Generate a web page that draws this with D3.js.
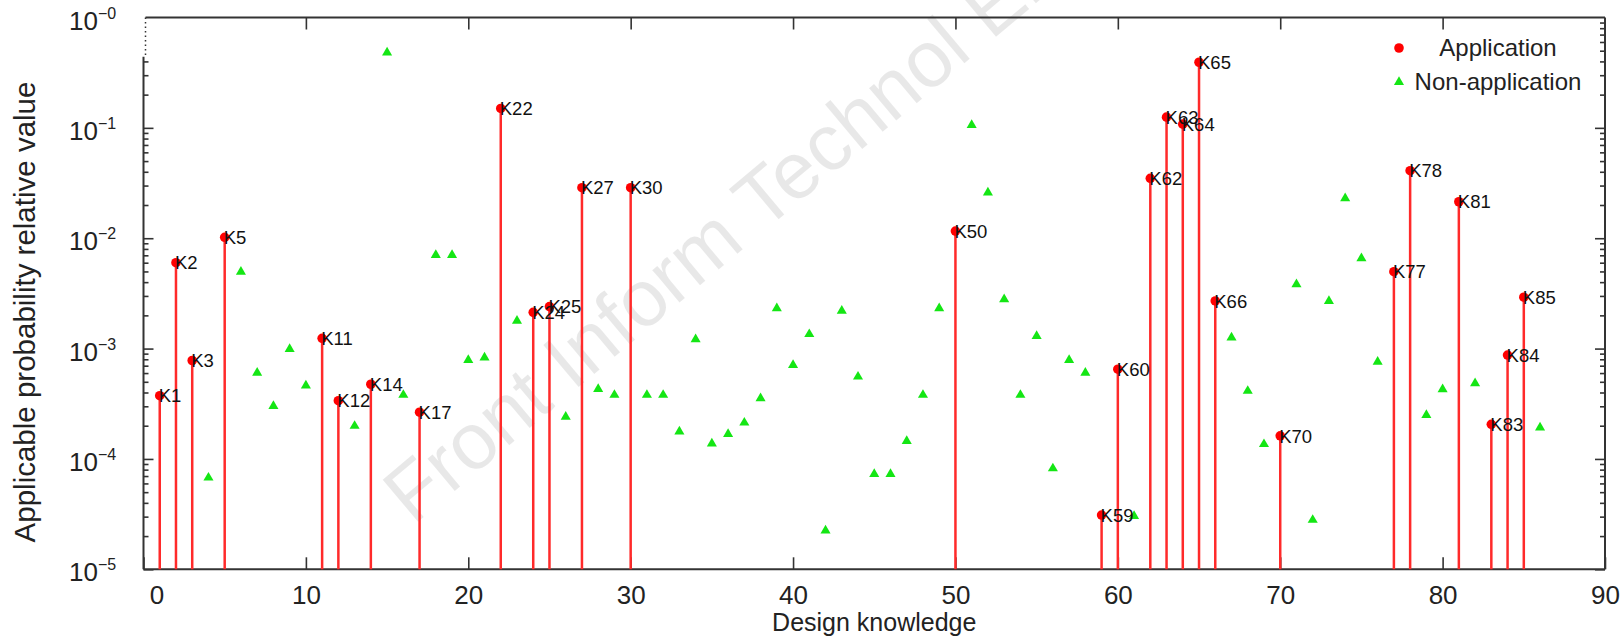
<!DOCTYPE html>
<html>
<head>
<meta charset="utf-8">
<script src="https://cdn.jsdelivr.net/npm/d3@7"></script>
<style>
  body { margin: 0; background: #fff; }
  svg { display: block; }
  text { font-family: "Liberation Sans", Arial, sans-serif; }
</style>
</head>
<body>
<script>
// knowledge items that were applied (red stems) and their relative values
var appIds = [1, 2, 3, 5, 11, 12, 14, 17, 22, 24, 25, 27, 30, 50, 59, 60, 62, 63, 64, 65, 66, 70, 77, 78, 81, 83, 84, 85];
var appValues = [3.74e-4, 6.0e-3, 7.8e-4, 1.02e-2, 1.24e-3, 3.37e-4, 4.75e-4, 2.65e-4, 0.150, 2.13e-3, 2.4e-3, 2.87e-2, 2.87e-2, 1.16e-2,
                 3.1e-5, 6.5e-4, 3.49e-2, 0.125, 0.108, 0.393, 2.7e-3, 1.62e-4, 4.97e-3, 4.09e-2, 2.14e-2, 2.06e-4, 8.74e-4, 2.92e-3];
var appLabels = ["K1", "K2", "K3", "K5", "K11", "K12", "K14", "K17", "K22", "K24", "K25", "K27", "K30", "K50",
                 "K59", "K60", "K62", "K63", "K64", "K65", "K66", "K70", "K77", "K78", "K81", "K83", "K84", "K85"];

// knowledge items not applied (green triangles)
var nonIds = [4, 6, 7, 8, 9, 10, 13, 15, 16, 18, 19, 20, 21, 23, 26, 28, 29, 31, 32, 33, 34, 35, 36, 37, 38, 39, 40, 41, 42,
              43, 44, 45, 46, 47, 48, 49, 51, 52, 53, 54, 55, 56, 57, 58, 61, 67, 68, 69, 71, 72, 73, 74, 75, 76, 79, 80, 82, 86];
var nonValues = [6.76e-5, 4.97e-3, 6.04e-4, 3.02e-4, 9.9e-4, 4.61e-4, 1.99e-4, 0.48, 3.8e-4, 7.05e-3, 7.05e-3, 7.88e-4, 8.27e-4, 1.78e-3,
                 2.41e-4, 4.3e-4, 3.8e-4, 3.8e-4, 3.8e-4, 1.77e-4, 1.21e-3, 1.38e-4, 1.68e-4, 2.13e-4, 3.54e-4, 2.32e-3, 7.1e-4, 1.35e-3, 2.24e-5,
                 2.2e-3, 5.56e-4, 7.3e-5, 7.3e-5, 1.45e-4, 3.8e-4, 2.32e-3, 0.106, 2.59e-2, 2.79e-3, 3.8e-4, 1.3e-3, 8.2e-5, 7.88e-4, 6.04e-4,
                 3.04e-5, 1.26e-3, 4.13e-4, 1.36e-4, 3.82e-3, 2.8e-5, 2.7e-3, 2.3e-2, 6.58e-3, 7.6e-4, 2.5e-4, 4.28e-4, 4.84e-4, 1.92e-4];

var xTicks = [0, 10, 20, 30, 40, 50, 60, 70, 80, 90];
var yDecades = [0, -1, -2, -3, -4, -5];
var legendNames = ["Application", "Non-application"];

var width = 1620, height = 639;
var margin = {top: 17.5, right: 15, bottom: 69.7, left: 143.5};
var axisColor = "#333";

var svg = d3.select("body").append("svg")
    .attr("width", width)
    .attr("height", height);

var x = d3.scaleLinear().domain([0, 90]).range([margin.left, width - margin.right]);
var y = d3.scaleLog().domain([1e-5, 1]).range([height - margin.bottom, margin.top]);

// watermark
svg.append("text")
    .attr("transform", "translate(413,526) rotate(-40)")
    .attr("font-size", 80)
    .attr("fill", "#000")
    .attr("fill-opacity", 0.09)
    .text("Front Inform Technol Electron Eng");

var minorVals = [];
yDecades.slice(1).forEach(function(e) {
    for (var m = 2; m <= 9; m++) minorVals.push(m * Math.pow(10, e));
});
var leftMinor = minorVals.filter(function(v) { return v <= 0.4; });

function styleAxis(g) {
    g.select(".domain").remove();
    g.selectAll(".tick line").attr("stroke", axisColor).attr("stroke-width", 1.6);
}

// bottom axis with labels
var xAxisG = svg.append("g")
    .attr("transform", "translate(0," + y(1e-5) + ")")
    .call(d3.axisBottom(x).tickValues(xTicks).tickSize(-12).tickPadding(16).tickFormat(d3.format("d")))
    .call(styleAxis);
xAxisG.selectAll(".tick text")
    .attr("font-size", 26)
    .attr("fill", "#222")
    .attr("dx", function(d) { return d === 0 ? 13 : 0; });

// top axis, ticks only
svg.append("g")
    .attr("transform", "translate(0," + y(1) + ")")
    .call(d3.axisTop(x).tickValues(xTicks.slice(1, -1)).tickSize(-12).tickFormat(""))
    .call(styleAxis);

// left minor + major ticks
svg.append("g")
    .attr("transform", "translate(" + x(0) + ",0)")
    .call(d3.axisLeft(y).tickValues(leftMinor).tickSize(-5).tickFormat(""))
    .call(styleAxis);
svg.append("g")
    .attr("transform", "translate(" + x(0) + ",0)")
    .call(d3.axisLeft(y).tickValues(yDecades.slice(1).map(function(e) { return Math.pow(10, e); })).tickSize(-10).tickFormat(""))
    .call(styleAxis);

// right minor + major ticks
svg.append("g")
    .attr("transform", "translate(" + x(90) + ",0)")
    .call(d3.axisRight(y).tickValues(minorVals).tickSize(-5).tickFormat(""))
    .call(styleAxis);
svg.append("g")
    .attr("transform", "translate(" + x(90) + ",0)")
    .call(d3.axisRight(y).tickValues(yDecades.slice(1).map(function(e) { return Math.pow(10, e); })).tickSize(-10).tickFormat(""))
    .call(styleAxis);

// frame
var frame = svg.append("g").attr("stroke", axisColor).attr("stroke-width", 2).attr("fill", "none");
frame.append("line").attr("x1", x(0)).attr("x2", x(90)).attr("y1", y(1e-5)).attr("y2", y(1e-5));
frame.append("line").attr("x1", x(0) + 2).attr("x2", x(90)).attr("y1", y(1)).attr("y2", y(1));
frame.append("line").attr("x1", x(90)).attr("x2", x(90)).attr("y1", y(1)).attr("y2", y(1e-5));
frame.append("line").attr("x1", x(0)).attr("x2", x(0)).attr("y1", y(0.44)).attr("y2", y(1e-5));
frame.append("line").attr("x1", x(0) + 2).attr("x2", x(0) + 2).attr("y1", y(1)).attr("y2", y(0.44))
    .attr("stroke-dasharray", "1.5,3").attr("stroke-width", 1.5);

// y tick labels 10^-n
var yLab = svg.append("g").attr("fill", "#222");
yDecades.forEach(function(e) {
    var t = yLab.append("text")
        .attr("x", 69)
        .attr("y", y(Math.pow(10, e)) + 12)
        .attr("font-size", 26);
    t.append("tspan").text("10");
    t.append("tspan").attr("font-size", 16).attr("dy", -11).text("\u2212" + Math.abs(e));
});

// axis titles
svg.append("text")
    .attr("x", (x(0) + x(90)) / 2)
    .attr("y", 631)
    .attr("text-anchor", "middle")
    .attr("font-size", 25)
    .attr("fill", "#222")
    .text("Design knowledge");

svg.append("text")
    .attr("transform", "translate(35,312) rotate(-90)")
    .attr("text-anchor", "middle")
    .attr("font-size", 29.5)
    .attr("fill", "#222")
    .text("Applicable probability relative value");

// application stems, dots and labels
var app = appIds.map(function(id, i) { return {x: id, v: appValues[i], label: appLabels[i]}; });
var non = nonIds.map(function(id, i) { return {x: id, v: nonValues[i]}; });

svg.append("g").selectAll("line")
    .data(app)
    .enter().append("line")
    .attr("x1", d => x(d.x)).attr("x2", d => x(d.x))
    .attr("y1", d => y(d.v)).attr("y2", y(1e-5))
    .attr("stroke", "#ff2a2a")
    .attr("stroke-width", 2.5);

svg.append("g").selectAll("path")
    .data(non)
    .enter().append("path")
    .attr("transform", d => "translate(" + x(d.x) + "," + y(d.v) + ")")
    .attr("d", d3.symbol(d3.symbolTriangle, 44))
    .attr("fill", "#14e614");

svg.append("g").selectAll("circle")
    .data(app)
    .enter().append("circle")
    .attr("cx", d => x(d.x))
    .attr("cy", d => y(d.v))
    .attr("r", 4.8)
    .attr("fill", "#f00");

svg.append("g").selectAll("text")
    .data(app)
    .enter().append("text")
    .attr("x", d => x(d.x) - 1)
    .attr("y", d => y(d.v) + 6.7)
    .attr("font-size", 18.5)
    .attr("fill", "#111")
    .text(d => d.label);

// legend
var legend = svg.append("g");
legend.append("circle").attr("cx", 1399).attr("cy", 48).attr("r", 4.8).attr("fill", "#f00");
legend.append("path")
    .attr("transform", "translate(1399,82)")
    .attr("d", d3.symbol(d3.symbolTriangle, 44))
    .attr("fill", "#14e614");
legend.selectAll("text.lg")
    .data(legendNames)
    .enter().append("text")
    .attr("class", "lg")
    .attr("x", 1498)
    .attr("y", (d, i) => 56 + i * 34)
    .attr("text-anchor", "middle")
    .attr("font-size", 24)
    .attr("fill", "#222")
    .text(d => d);
</script>
</body>
</html>
